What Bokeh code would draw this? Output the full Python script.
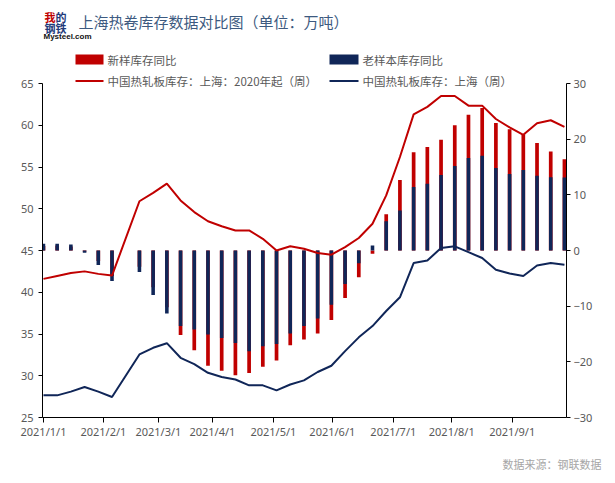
from bokeh.plotting import figure
from bokeh.models import Range1d, LinearAxis, FixedTicker, Title
from bokeh.core.properties import value
from bokeh.embed import file_html
from bokeh.resources import INLINE

# ---------------- data (weekly observations, 2021/1/1 onward) ----------------
week_idx = list(range(39))

# 新样库存同比 (%), right axis
new_sample_yoy = [0.8, 0.9, 0.7, -0.2, -1.9, -4.6, None, -2.9, -6.6, -10.2,
                  -15.2, -17.9, -20.7, -21.6, -22.4, -22.0, -20.9, -19.75, -17.0, -16.0,
                  -14.9, -12.5, -8.55, -4.8, -0.6, 6.5, 12.65, 17.65, 18.6, 19.9,
                  22.5, 24.4, 25.6, 22.9, 21.8, 20.9, 19.3, 17.8, 16.4]
# 老样本库存同比 (%), right axis
old_sample_yoy = [1.2, 1.2, 1.1, -0.4, -2.6, -5.5, None, -3.85, -8.0, -11.3,
                  -13.55, -14.2, -15.1, -15.7, -16.6, -18.1, -17.2, -16.8, -14.9, -13.55,
                  -12.2, -9.75, -6.0, -2.3, 0.9, 5.25, 7.2, 11.4, 12.0, 13.55,
                  15.2, 16.6, 17.0, 14.8, 13.75, 14.45, 13.45, 13.15, 13.1]
# 中国热轧板库存：上海：2020年起（周）, left axis
inv_since_2020 = [41.6, 41.95, 42.3, 42.5, 42.2, 42.0, None, 50.9, 51.9, 53.0,
                  51.0, 49.6, 48.5, 47.9, 47.4, 47.4, 46.4, 45.0, 45.5, 45.2,
                  44.7, 44.5, 45.4, 46.5, 48.2, 51.6, 56.2, 61.3, 62.2, 63.5,
                  63.5, 62.35, 62.35, 60.75, 59.75, 58.85, 60.25, 60.6, 59.8]
# 中国热轧板库存：上海（周）, left axis
inv_shanghai = [27.65, 27.65, 28.1, 28.65, 28.1, 27.45, None, 32.55, 33.35, 33.9,
                32.15, 31.4, 30.35, 29.85, 29.55, 28.85, 28.85, 28.25, 28.95, 29.45,
                30.45, 31.2, 32.95, 34.6, 35.95, 37.75, 39.4, 43.5, 43.8, 45.3,
                45.5, 44.8, 44.1, 42.7, 42.25, 41.95, 43.2, 43.5, 43.3]

month_labels = ["2021/1/1", "2021/2/1", "2021/3/1", "2021/4/1", "2021/5/1",
                "2021/6/1", "2021/7/1", "2021/8/1", "2021/9/1"]
month_tick_pos = [0.0, 4.37, 8.38, 12.32, 16.77, 21.07, 25.52, 29.78, 34.19]

left_min, left_max = 25, 65
right_min, right_max = -30, 30
left_ticks = [25, 30, 35, 40, 45, 50, 55, 60, 65]
right_ticks = [-30, -20, -10, 0, 10, 20, 30]

title_text = "上海热卷库存数据对比图（单位：万吨）"
legend_labels = ["新样库存同比", "老样本库存同比",
                 "中国热轧板库存：上海：2020年起（周）", "中国热轧板库存：上海（周）"]
source_text = "数据来源：钢联数据"

# ---------------- styling / layout ----------------
RED = "#C00000"
NAVY = "#102658"
GREY = "#595959"
CJK = "Noto Sans CJK SC"
W, H = 615, 483
FR_LEFT, FR_RIGHT = 42, 566        # frame edges in page pixels
AX_TOP, AX_BOT = 83, 417           # value-axis extent in page pixels (frame runs from 0 to AX_BOT)

# extend the value ranges so that the frame also covers the header area above the axes
lspan = (left_max - left_min) / (AX_BOT - AX_TOP)
rspan = (right_max - right_min) / (AX_BOT - AX_TOP)
y_left = Range1d(left_min, left_max + AX_TOP * lspan)
y_right = Range1d(right_min, right_max + AX_TOP * rspan)


def valid(xs, ys):
    pts = [(x, y) for x, y in zip(xs, ys) if y is not None]
    return [q[0] for q in pts], [q[1] for q in pts]


p = figure(width=W, height=H, output_backend="svg", toolbar_location=None, title=None,
           x_range=Range1d(-0.07, 38.15), y_range=y_left,
           min_border_left=FR_LEFT, min_border_right=W - FR_RIGHT,
           min_border_top=0, min_border_bottom=H - AX_BOT)
p.extra_y_ranges = {"yoy": y_right, "py": Range1d(AX_BOT, 0)}
p.extra_x_ranges = {"px": Range1d(FR_LEFT, FR_RIGHT)}
p.grid.visible = False
p.outline_line_color = None

# bars (right axis)
bx, by = valid(week_idx, new_sample_yoy)
p.vbar(x=bx, top=by, bottom=0, width=0.27, fill_color=RED, line_color=None, y_range_name="yoy")
bx, by = valid(week_idx, old_sample_yoy)
p.vbar(x=bx, top=by, bottom=0, width=0.26, fill_color=NAVY, line_color=None, y_range_name="yoy")

# lines (left axis)
lx, ly = valid(week_idx, inv_since_2020)
p.line(lx, ly, line_color=RED, line_width=2)
lx, ly = valid(week_idx, inv_shanghai)
p.line(lx, ly, line_color=NAVY, line_width=2)

# axes
p.xaxis.ticker = FixedTicker(ticks=month_tick_pos, minor_ticks=[])
p.xaxis.major_label_overrides = {t: l for t, l in zip(month_tick_pos, month_labels)}
p.yaxis.ticker = FixedTicker(ticks=left_ticks, minor_ticks=[])
p.yaxis.bounds = (left_min, left_max)

rax = LinearAxis(y_range_name="yoy", ticker=FixedTicker(ticks=right_ticks, minor_ticks=[]),
                 bounds=(right_min, right_max))
rax.major_label_overrides = {t: (("\u2212" + str(-t)) if t < 0 else str(t)) for t in right_ticks}
p.add_layout(rax, "right")

for ax in [p.xaxis[0], p.yaxis[0], rax]:
    ax.axis_line_color = "black"
    ax.axis_line_width = 1
    ax.major_tick_line_color = "black"
    ax.major_tick_in = 0
    ax.major_tick_out = 5
    ax.minor_tick_line_color = None
    ax.major_label_text_color = GREY
    ax.major_label_text_font = "Noto Sans"
    ax.major_label_text_font_size = "11px"
p.xaxis.major_label_standoff = 1
p.yaxis[0].major_label_standoff = 5
rax.major_label_standoff = 3
p.yaxis[0].major_tick_out = 4
rax.major_tick_out = 4


# ---------------- header (title, logo, legend) drawn in page-pixel coordinates ----------------
def ptext(x, y, text, size, color, font=CJK, style="normal", align="left"):
    p.text(x=[x], y=[y], text=[text], x_range_name="px", y_range_name="py",
           text_font=value(font), text_font_size=value(size), text_color=color,
           text_font_style=style, text_align=align, text_baseline="middle")


ptext(78, 21, title_text, "15px", "#3D5A80")
ptext(44, 16, "我", "11px", "#C00000", style="bold")
ptext(55, 16, "的", "11px", "#1F3A7A", style="bold")
ptext(44, 27, "钢铁", "11px", "#1F3A7A", style="bold")
ptext(43, 36, "Mysteel.com", "8px", "#111111", font="Liberation Sans", style="bold")

p.quad(left=[75], right=[103], top=[54], bottom=[64], fill_color=RED, line_color=None,
       x_range_name="px", y_range_name="py")
p.quad(left=[329], right=[358], top=[54], bottom=[64], fill_color=NAVY, line_color=None,
       x_range_name="px", y_range_name="py")
p.segment(x0=[75], y0=[80.5], x1=[103], y1=[80.5], line_color=RED, line_width=2,
          x_range_name="px", y_range_name="py")
p.segment(x0=[329], y0=[80.5], x1=[358], y1=[80.5], line_color=NAVY, line_width=2,
          x_range_name="px", y_range_name="py")
ptext(107, 59, legend_labels[0], "11.5px", GREY)
ptext(362, 59, legend_labels[1], "11.5px", GREY)
ptext(107, 80.5, legend_labels[2], "11.5px", GREY)
ptext(362, 80.5, legend_labels[3], "11.5px", GREY)

# ---------------- source note below the x axis ----------------
src = Title(text=source_text, align="right", offset=-35, standoff=24,
            text_font=CJK, text_font_size="11px", text_color="#A6A6A6",
            text_font_style="normal")
p.add_layout(src, "below")

open("out.html", "w").write(file_html(p, INLINE))
